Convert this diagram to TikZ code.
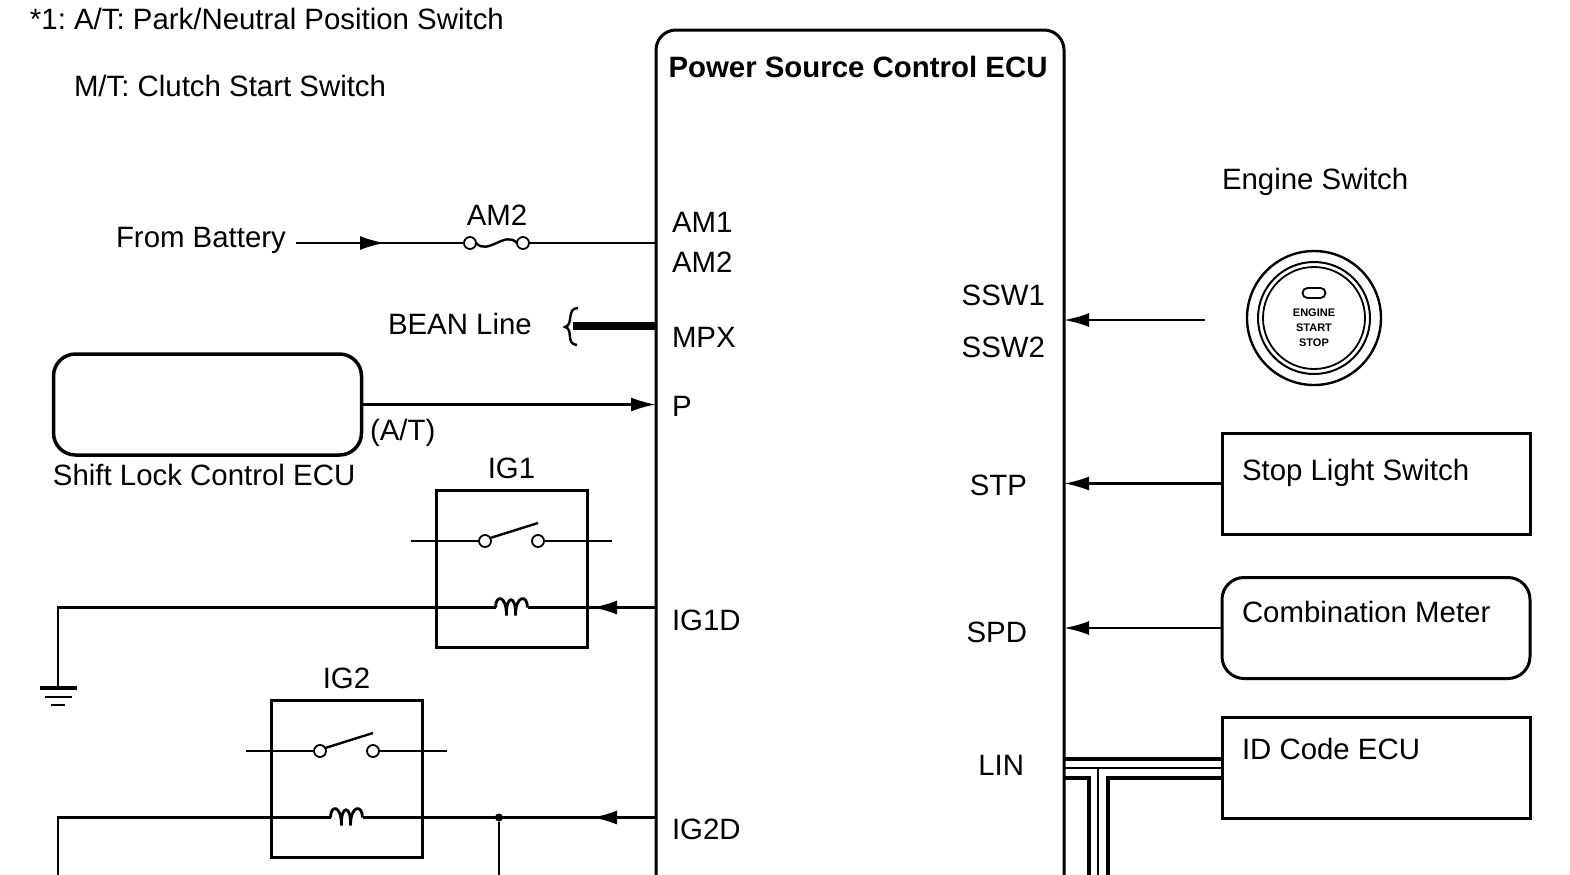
\documentclass[tikz,border=0pt]{standalone}
\usepackage{fontspec}
\setmainfont{Liberation Sans}
\usetikzlibrary{arrows.meta,decorations.markings,positioning}

\begin{document}
\frenchspacing
\begin{tikzpicture}
  [x=0.5pt,y=-0.5pt,
   font=\fontsize{14.7}{17}\selectfont,
   every node/.style={inner sep=0pt, outer sep=0pt},
   lbl/.style={text height=10.5pt, text depth=0pt},
   wire/.style={line width=1.2pt},
   arr/.style={-{Latex[length=12.5pt,width=7pt]}},
   midarrow/.style={postaction={decorate}, decoration={markings,
       mark=at position #1 with {\arrow{Latex[length=12.5pt,width=7pt]}}}},
   ecubox/.style={draw, line width=1.5pt, rounded corners=10pt, minimum width=204pt, minimum height=455pt},
   unit/.style={draw, line width=1.5pt, minimum width=154pt, minimum height=50.5pt},
   relay/.style={draw, line width=1.5pt, minimum width=75.5pt, minimum height=78.5pt},
   term/.style={circle, draw, line width=0.9pt, fill=white, minimum size=6pt},
   jdot/.style={circle, fill, minimum size=4pt},
   shield/.style={line width=2pt}]

  \useasboundingbox (0,0) rectangle (1570,874);
  \clip (0,0) rectangle (1570,874);

  % notes
  \node[lbl, anchor=west] (note1) at (30,19) {*1: A/T: Park/Neutral Position Switch};
  \node[lbl, anchor=west] (note2) at (74,86) {M/T: Clutch Start Switch};

  % power source control ECU
  \node[ecubox] (ecu) at (860,485) {};
  \node[lbl, font=\fontsize{14.7}{17}\selectfont\bfseries] (ecutitle) at (858,67) {Power Source Control ECU};
  \foreach \pin/\py in {AM1/222, AM2/262, MPX/337, P/406, IG1D/620, IG2D/829}
    \node[lbl, anchor=west] (pin\pin) at (672,\py) {\pin};
  \foreach \pin/\px/\py in {SSW1/1045/295, SSW2/1045/347, STP/1027/485, SPD/1027/632, LIN/1024/765}
    \node[lbl, anchor=east] (pin\pin) at (\px,\py) {\pin};

  % battery and fuse
  \node[lbl, anchor=west] (batt) at (116,237) {From Battery};
  \coordinate (battin) at (296,243);
  \node[term] (fusea) at (470,243) {};
  \node[term] (fuseb) at (523,243) {};
  \node[lbl] (fuselbl) at (497,215) {AM2};
  \draw[wire, midarrow=44.5pt] (battin) -- (fusea);
  \draw[wire] (fusea.east) .. controls (488,256) and (505,230) .. (fuseb.west);
  \draw[wire] (fuseb) -- (fuseb -| ecu.west);

  % BEAN line
  \node[lbl, anchor=west] (bean) at (388,324) {BEAN Line};
  \coordinate (beanend) at (573,326);
  \draw[line width=4pt] (beanend) -- (beanend -| ecu.west);
  \draw[wire] (578,308) .. controls (566,308) and (574,325) .. (565,327)
              .. controls (574,329) and (565,344) .. (577,345);

  % shift lock control ECU
  \node[unit, rounded corners=11pt, line width=1.75pt] (slecu) at (207.5,404.5) {};
  \node[lbl, anchor=west] (sllbl) at (53,475) {Shift Lock Control ECU};
  \node[lbl, anchor=west] (atlbl) at (370,430) {(A/T)};
  \draw[wire, arr] (slecu.east) -- (slecu.east -| ecu.west);

  % relays
  \foreach \rl/\cx/\cy in {IG1/511.5/568.5, IG2/346.5/778.5}{
    \node[relay] (\rl) at (\cx,\cy) {};
    \node[lbl, above=6pt of \rl] (lbl\rl) {\rl};
    \node[term] (ta\rl) at (\cx-26.5,\cy-27.5) {};
    \node[term] (tb\rl) at (\cx+26.5,\cy-27.5) {};
    \draw[wire] (ta\rl.west) -- ++(-68,0);
    \draw[wire] (tb\rl.east) -- ++(68,0);
    \draw[wire] (ta\rl.30) -- (\cx+26.5,\cy-45.5);
    \coordinate (cl\rl) at (\cx-16,\cy+39);
    \coordinate (cr\rl) at (\cx+16,\cy+39);
    \draw[line width=1.4pt] (cl\rl) .. controls (\cx-16,\cy+26) and (\cx-5,\cy+26) .. (\cx-5,\cy+47)
      .. controls (\cx-6,\cy+26) and (\cx+5,\cy+26) .. (\cx+4,\cy+47)
      .. controls (\cx+4,\cy+26) and (\cx+16,\cy+26) .. (cr\rl);
  }

  % IG1 coil to ground
  \coordinate (gnd) at (58,688);
  \draw[wire, midarrow=32pt] (crIG1 -| ecu.west) -- (crIG1);
  \draw[wire] (clIG1) -| (gnd);
  \draw[line width=1.8pt] (gnd) ++(-18,0) -- ++(37,0);
  \draw[line width=1.4pt] (gnd) ++(-13,9) -- ++(27,0);
  \draw[line width=1.4pt] (gnd) ++(-7,17) -- ++(14,0);

  % IG2 coil
  \node[jdot] (jn) at (499,817.5) {};
  \coordinate (gndb) at (58,880);
  \coordinate (jnend) at (499,880);
  \draw[wire, midarrow=32pt] (crIG2 -| ecu.west) -- (crIG2);
  \draw[wire] (clIG2) -| (gndb);
  \draw[wire] (jn) -- (jnend);

  % engine switch
  \node[lbl, anchor=west] (engtitle) at (1222,179) {Engine Switch};
  \node[circle, draw, line width=1.2pt, minimum size=67pt] (engsw) at (1314,318) {};
  \node[circle, draw, line width=1pt, minimum size=56pt] (engswb) at (engsw) {};
  \node[circle, draw, line width=0.9pt, minimum size=51pt] (engswc) at (engsw) {};
  \node[draw, line width=0.9pt, rounded corners=2.5pt, minimum width=11.5pt, minimum height=5pt] (engled) at (1314,293) {};
  \node[align=center, font=\fontsize{5.5}{7.5}\selectfont\bfseries] (engtxt) at (1314,328) {ENGINE\\START\\STOP};
  \coordinate (swout) at (1205,320);
  \draw[wire, arr] (swout) -- (swout -| ecu.east);

  % stop light switch, meter, ID code ECU
  \node[unit] (stpsw) at (1376,483.5) {};
  \node[lbl, anchor=west] (stptxt) at (1242,470) {Stop Light Switch};
  \draw[wire, arr] (stpsw.west) -- (stpsw.west -| ecu.east);

  \node[unit, rounded corners=11pt] (meter) at (1376,628) {};
  \node[lbl, anchor=west] (metertxt) at (1242,612) {Combination Meter};
  \draw[wire, arr] (meter.west) -- (meter.west -| ecu.east);

  \node[unit] (idecu) at (1376,767.5) {};
  \node[lbl, anchor=west] (idtxt) at (1242,749) {ID Code ECU};

  % LIN bus
  \draw[shield] (ecu.east |- 0,759) -- (idecu.west |- 0,759);
  \draw[line width=0.6pt] (ecu.east |- 0,768) -- (idecu.west |- 0,768);
  \draw[line width=0.6pt] (1098,768) -- (1098,880);
  \draw[shield] (ecu.east |- 0,778) -| (1089,880);
  \draw[shield] (idecu.west |- 0,778) -| (1108,880);

\end{tikzpicture}
\end{document}
